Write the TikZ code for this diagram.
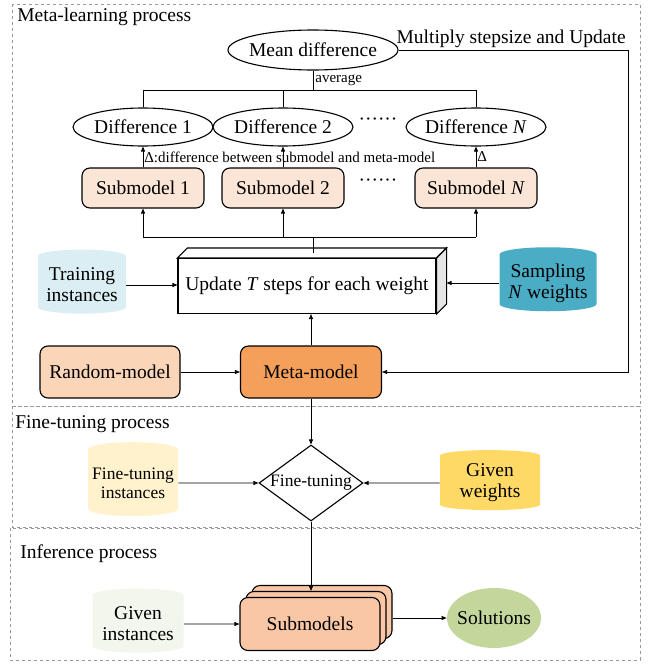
\documentclass[tikz,border=0pt]{standalone}
\usepackage{fontspec}
\setmainfont{Liberation Serif}
\usetikzlibrary{calc}
\usetikzlibrary{graphs}
\usetikzlibrary{shapes}
\usetikzlibrary{positioning}
\usetikzlibrary{arrows.meta}

\definecolor{subfill}{HTML}{FBE5D6}
\definecolor{randfill}{HTML}{FAD5B8}
\definecolor{metafill}{HTML}{F5A05A}
\definecolor{trainfill}{HTML}{DAEEF3}
\definecolor{samplefill}{HTML}{4BACC6}
\definecolor{finefill}{HTML}{FFF2CC}
\definecolor{weightfill}{HTML}{FFD966}
\definecolor{givenfill}{HTML}{F2F6EC}
\definecolor{stackfill}{HTML}{F9C7A5}
\definecolor{solfill}{HTML}{C3D69B}

\begin{document}
\begin{tikzpicture}[x=1pt, y=-1pt, line width=0.7pt,
    every node/.style={font=\fontsize{19.5}{21}\selectfont, align=center},
    model/.style={draw, line width=1.1pt, rounded corners=8pt, minimum width=122pt, minimum height=40pt},
    oval/.style={draw, ellipse, line width=1.1pt, minimum width=140pt, minimum height=38pt, inner xsep=-8pt, inner ysep=0pt},
    store/.style={cylinder, shape border rotate=90, aspect=0.18, fill=#1, minimum width=88pt, minimum height=64pt, inner sep=0pt},
    region/.style={draw=gray!80, dashed, line width=0.8pt},
    small/.style={font=\fontsize{15}{17}\selectfont},
    mid/.style={font=\fontsize{17.5}{19}\selectfont},
    tip/.style={-{Triangle[length=5pt,width=4pt]}}]
    \useasboundingbox (0,0) rectangle (654,664);

    % process regions
    \draw[region] (12,4) rectangle (640,406);
    \draw[region] (12,406) rectangle (640,527);
    \draw[region] (10,528) rectangle (640,660);
    \node[anchor=west, inner sep=1pt] (metatitle) at (16,17) {Meta-learning process};
    \node[anchor=west, inner sep=1pt] (finetitle) at (14,424) {Fine-tuning process};
    \node[anchor=west, inner sep=1pt] (inftitle) at (19,554) {Inference process};

    % meta-learning
    \node[oval, minimum width=170pt, minimum height=40pt] (mean) at (313,50) {Mean difference};
    \node[oval] (diff1) at (143,127) {Difference 1};
    \node[oval] (diff2) at (283,127) {Difference 2};
    \node[oval] (diffN) at (476,127) {Difference \textit{N}};
    \node (diffdots) at (378,122) {······};

    \node[model, fill=subfill] (sub1) at (143,188) {Submodel 1};
    \node[model, fill=subfill] (sub2) at (283,188) {Submodel 2};
    \node[model, fill=subfill] (subN) at (476,188) {Submodel \textit{N}};
    \node (subdots) at (378,183) {······};

    \draw (mean.south) -- ++(0,20) coordinate (avgjoin);
    \node[small, anchor=west, inner sep=2pt] at ($(mean.south)!0.5!(avgjoin)$) {average};
    \draw (diff1.north) -- (diff1.north |- avgjoin) -- (diffN.north |- avgjoin) -- (diffN.north);
    \draw (diff2.north) -- (diff2.north |- avgjoin);

    \draw[tip] (sub1.north) -- (diff1.south);
    \draw[tip] (sub2.north) -- (diff2.south);
    \draw[tip] (subN.north) -- (diffN.south);
    \node[small, anchor=west, inner sep=1pt] at ($(sub1.north)!0.5!(diff1.south)$) {Δ:difference between submodel and meta-model};
    \node[small, anchor=west, inner sep=1pt] at ($(subN.north)!0.5!(diffN.south)$) {Δ};

    \node[draw, line width=1.1pt, minimum width=258pt, minimum height=55pt] (update) at (307,286) {Update \textit{T} steps for each weight};
    \draw[line width=1.1pt, fill=white] (update.north west) -- ++(10,-10) -- ($(update.north east)+(10,-10)$) -- (update.north east) -- cycle;
    \draw[line width=1.1pt, fill=gray!20] (update.north east) -- ++(10,-10) -- ($(update.south east)+(10,-10)$) -- (update.south east) -- cycle;
    \coordinate (updateback) at ($(update.east)+(10,0)$);

    \draw ($(update.north)+(6,-5)$) -- ++(0,-16) coordinate (subjoin);
    \draw (sub1.south |- subjoin) -- (subN.south |- subjoin);
    \draw[tip] (sub1.south |- subjoin) -- (sub1.south);
    \draw[tip] (sub2.south |- subjoin) -- (sub2.south);
    \draw[tip] (subN.south |- subjoin) -- (subN.south);

    \node[store=trainfill] (train) at (82,285) {Training\\instances};
    \node[store=samplefill, minimum width=97pt] (sample) at (548,283) {Sampling\\\textit{N} weights};

    \node[model, fill=randfill, minimum width=140pt, minimum height=52pt] (random) at (110,372) {Random-model};
    \node[model, fill=metafill, minimum width=141pt, minimum height=52pt] (meta) at (311,372) {Meta-model};

    \coordinate (loop) at (628,50);
    \node[anchor=south east, inner sep=2pt] at (loop) {Multiply stepsize and Update};

    \draw[tip] (train.east) -- (train.east -| update.west);
    \draw[tip] (sample.west) -- (sample.west -| updateback);
    \draw[tip] (meta.north) -- (meta.north |- update.south);
    \draw[tip] (random) -- (meta);
    \draw[tip] (mean.east) -- (loop) |- (meta.east);

    % fine-tuning
    \node[draw, diamond, line width=1.1pt, aspect=1.37, minimum width=104pt, minimum height=76pt, inner sep=-4pt, mid] (fine) at (311,483) {Fine-tuning};
    \node[store=finefill, minimum width=90pt, minimum height=74pt, mid] (fineinst) at (133,483) {Fine-tuning\\instances};
    \node[store=weightfill, minimum width=100pt, minimum height=60pt] (weights) at (490,483) {Given\\weights};

    \draw[tip] (meta.south) -- (fine.north);
    \draw[tip] (fineinst) -- (fine);
    \draw[tip] (weights) -- (fine);

    % inference
    \node[model, fill=stackfill, minimum width=140pt, minimum height=53pt] (stack3) at (322,612) {};
    \node[model, fill=stackfill, minimum width=140pt, minimum height=53pt] (stack2) at (316,618) {};
    \node[model, fill=stackfill, minimum width=140pt, minimum height=53pt] (stack1) at (310,624) {Submodels};
    \node[store=givenfill, minimum width=91pt, minimum height=64pt] (given) at (138,624) {Given\\instances};
    \node[ellipse, fill=solfill, minimum width=94pt, minimum height=60pt, inner sep=-6pt] (sol) at (494,618) {Solutions};

    \draw[tip] (fine.south) -- (fine.south |- stack2.north);
    \draw[tip] (given) -- (given -| stack1.west);
    \draw[tip] (stack3.east |- sol.west) -- (sol.west);
\end{tikzpicture}
\end{document}
